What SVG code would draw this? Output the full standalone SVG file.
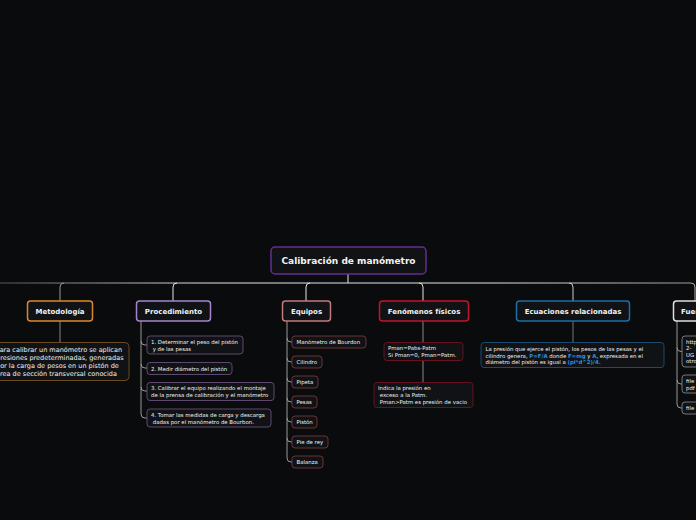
<svg xmlns="http://www.w3.org/2000/svg" width="696" height="520" viewBox="0 0 696 520">
<defs>
<linearGradient id="hg" gradientUnits="userSpaceOnUse" x1="0" y1="0" x2="696" y2="0">
<stop offset="0" stop-color="#555"/>
<stop offset="0.3" stop-color="#e6e6e6"/>
<stop offset="0.7" stop-color="#e6e6e6"/>
<stop offset="1" stop-color="#999"/>
</linearGradient>
<style>
text{font-family:"DejaVu Sans",Verdana,sans-serif;fill:#f2f2f2}
.t{font-weight:bold;font-size:7px;text-anchor:middle}
.s{font-size:5.4px}
.b{fill:#2f8fd8;font-weight:bold}
.n{fill:#111215;stroke-width:1.5}
.c{fill:#111215;stroke-width:1}
.l{fill:none;stroke-width:1}
</style>
</defs>
<rect width="696" height="520" fill="#0a0b0d"/>
<g id="connectors">
<path class="l" d="M348 274V283" stroke="#e6e6e6"/>
<path class="l" d="M0 283H691" stroke="url(#hg)"/>
<path class="l" d="M60 301V287Q60 283 64 283" stroke="#999"/>
<path class="l" d="M173 301V287Q173 283 177 283" stroke="#e6e6e6"/>
<path class="l" d="M306 301V287Q306 283 310 283" stroke="#e6e6e6"/>
<path class="l" d="M423 301V287Q423 283 419 283" stroke="#e6e6e6"/>
<path class="l" d="M573 301V287Q573 283 569 283" stroke="#ccc"/>
<path class="l" d="M691 283Q695 283 695 287V301" stroke="#aaa"/>
<path class="l" d="M60 321V342" stroke="#888"/>
<path class="l" d="M423 321V342M423 360V382" stroke="#888"/>
<path class="l" d="M573 321V342" stroke="#777"/>
<path class="l" stroke="#999" d="M141 321V414Q141 418 145 418H147M141 341Q141 345 145 345H147M141 364Q141 368 145 368H147M141 387Q141 391 145 391H147"/>
<path class="l" stroke="#999" d="M287 321V458Q287 462 291 462H292M287 338Q287 342 291 342H292M287 358Q287 362 291 362H292M287 378Q287 382 291 382H292M287 398Q287 402 291 402H292M287 418Q287 422 291 422H292M287 438Q287 442 291 442H292"/>
<path class="l" stroke="#999" d="M677 321V404Q677 408 681 408H682M677 347.5Q677 351.5 681 351.5H682M677 380Q677 384 681 384H682"/>
</g>
<g id="root">
<rect class="n" x="271" y="247" width="155" height="27" rx="4" stroke="#662d91"/>
<text x="348.5" y="264" style="font-weight:bold;font-size:9px;text-anchor:middle">Calibración de manómetro</text>
</g>
<g id="metodologia">
<rect class="n" x="27.5" y="301" width="65" height="20" rx="3" stroke="#e0862a"/>
<text class="t" x="60" y="313.5">Metodología</text>
</g>
<g id="metodologia-texto">
<rect class="c" x="-8" y="342.5" width="137" height="38" rx="4" stroke="#6b4a20"/>
<text style="font-size:6.5px"><tspan x="-4" y="352">Para calibrar un manómetro se aplican</tspan><tspan x="-4" y="360">presiones predeterminadas, generadas</tspan><tspan x="-4" y="368">por la carga de pesos en un pistón de</tspan><tspan x="-4" y="376">área de sección transversal conocida</tspan></text>
</g>
<g id="procedimiento">
<rect class="n" x="136.5" y="301" width="74" height="20" rx="3" stroke="#a585c8"/>
<text class="t" x="173.5" y="313.5">Procedimiento</text>
</g>
<g id="p1"><rect class="c" x="147" y="336" width="96" height="18" rx="3" stroke="#5e4870"/><text class="s"><tspan x="151" y="343.5">1. Determinar el peso del pistón</tspan><tspan x="151" y="350.5"> y de las pesas</tspan></text></g>
<g id="p2"><rect class="c" x="147" y="362.5" width="85" height="12" rx="3" stroke="#5e4870"/><text class="s" x="151" y="370.5">2. Medir diámetro del pistón</text></g>
<g id="p3"><rect class="c" x="147" y="382.5" width="127" height="18" rx="3" stroke="#5e4870"/><text class="s"><tspan x="151" y="390">3. Calibrar el equipo realizando el montaje</tspan><tspan x="151" y="397">de la prensa de calibración y el manómetro</tspan></text></g>
<g id="p4"><rect class="c" x="147" y="409" width="124" height="18" rx="3" stroke="#5e4870"/><text class="s"><tspan x="151" y="416.5">4. Tomar las medidas de carga y descarga</tspan><tspan x="151" y="423.5"> dadas por el manómetro de Bourbon.</tspan></text></g>
<g id="equipos">
<rect class="n" x="282.5" y="301" width="48" height="20" rx="3" stroke="#c47a7a"/>
<text class="t" x="306.5" y="313.5">Equipos</text>
</g>
<g id="e1"><rect class="c" x="292" y="336" width="74" height="12" rx="3" stroke="#6a3535"/><text class="s" x="296.5" y="344">Manómetro de Bourdon</text></g>
<g id="e2"><rect class="c" x="292" y="356" width="30" height="12" rx="3" stroke="#6a3535"/><text class="s" x="296.5" y="364">Cilindro</text></g>
<g id="e3"><rect class="c" x="292" y="376" width="26" height="12" rx="3" stroke="#6a3535"/><text class="s" x="296.5" y="384">Pipeta</text></g>
<g id="e4"><rect class="c" x="292" y="396" width="25" height="12" rx="3" stroke="#6a3535"/><text class="s" x="296.5" y="404">Pesas</text></g>
<g id="e5"><rect class="c" x="292" y="416" width="25" height="12" rx="3" stroke="#6a3535"/><text class="s" x="296.5" y="424">Pistón</text></g>
<g id="e6"><rect class="c" x="292" y="436" width="36" height="12" rx="3" stroke="#6a3535"/><text class="s" x="296.5" y="444">Pie de rey</text></g>
<g id="e7"><rect class="c" x="292" y="456" width="31" height="12" rx="3" stroke="#6a3535"/><text class="s" x="296.5" y="464">Balanza</text></g>
<g id="fenomenos">
<rect class="n" x="379.5" y="301" width="89" height="20" rx="3" stroke="#c8102e"/>
<text class="t" x="424" y="313.5">Fenómenos físicos</text>
</g>
<g id="f1"><rect class="c" x="384" y="342.5" width="79" height="18" rx="3" stroke="#6a1020"/><text class="s"><tspan x="388" y="350">Pman=Pabs-Patm</tspan><tspan x="388" y="357">Si Pman=0, Pman=Patm.</tspan></text></g>
<g id="f2"><rect class="c" x="374" y="382.5" width="99" height="25" rx="3" stroke="#6a1020"/><text class="s"><tspan x="378" y="390">Indica la presión en</tspan><tspan x="378" y="397"> exceso a la Patm.</tspan><tspan x="378" y="404"> Pman&gt;Patm es presión de vacio</tspan></text></g>
<g id="ecuaciones">
<rect class="n" x="516.5" y="301" width="113" height="20" rx="3" stroke="#1d6fa5"/>
<text class="t" x="573" y="313.5">Ecuaciones relacionadas</text>
</g>
<g id="ec1"><rect class="c" x="481" y="342.5" width="183" height="25" rx="3" stroke="#1a4a70"/><text class="s"><tspan x="485.5" y="351">La presión que ejerce el pistón, los pesos de las pesas y el</tspan><tspan x="485.5" y="357.5">cilindro genera, <tspan class="b">P=F/A</tspan> donde <tspan class="b">F=mg</tspan> y <tspan class="b">A</tspan>, expresada en el</tspan><tspan x="485.5" y="364">diámetro del pistón es igual a <tspan class="b">(pi*d^2)/4.</tspan></tspan></text></g>
<g id="fuentes">
<rect class="n" x="673.5" y="301" width="60" height="20" rx="3" stroke="#e0e0e0"/>
<text x="681" y="313.5" style="font-weight:bold;font-size:7px">Fuentes</text>
</g>
<g id="fu1"><rect class="c" x="682" y="336" width="40" height="31" rx="3" stroke="#777"/><text class="s"><tspan x="686" y="343.5">http</tspan><tspan x="686" y="350">2-</tspan><tspan x="686" y="356.5">UG</tspan><tspan x="686" y="363">otro</tspan></text></g>
<g id="fu2"><rect class="c" x="682" y="375" width="40" height="18" rx="3" stroke="#777"/><text class="s"><tspan x="686" y="383">file</tspan><tspan x="686" y="389.5">pdf</tspan></text></g>
<g id="fu3"><rect class="c" x="682" y="402" width="40" height="12" rx="3" stroke="#777"/><text class="s" x="686" y="410">file</text></g>
</svg>
